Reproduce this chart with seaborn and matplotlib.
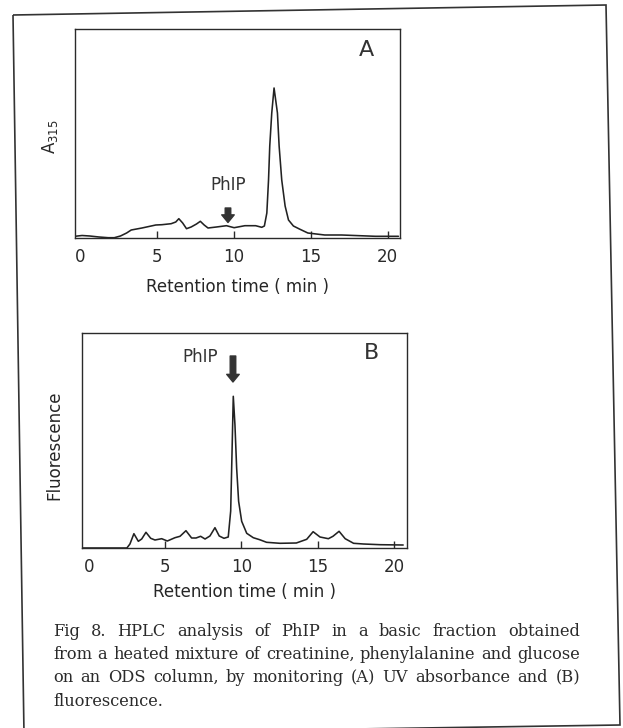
import numpy as np
import pandas as pd
import seaborn as sns
import matplotlib.pyplot as plt
import matplotlib as mpl
from matplotlib.patches import Polygon

sns.set_style("white")
mpl.rcParams["font.family"] = ["DejaVu Sans"]
mpl.rcParams["xtick.labelsize"] = 12
mpl.rcParams["axes.labelsize"] = 12
mpl.rcParams["axes.linewidth"] = 1.0
mpl.rcParams["axes.edgecolor"] = "#2a2a2a"
mpl.rcParams["text.color"] = "#333333"
mpl.rcParams["xtick.color"] = "#2a2a2a"

# panel A: UV absorbance (A315), retention time in min, signal in arbitrary units
time_a = [-0.36, -0.2, 0.1, 0.6, 1.2, 1.8, 2.2, 2.6, 3.0, 3.3, 4.0, 4.9, 5.3, 5.9,
          6.2, 6.4, 6.65, 6.9, 7.2, 7.55, 7.8, 8.05, 8.3, 8.85, 9.5, 10.0, 10.7,
          11.4, 11.8, 11.97, 12.13, 12.24, 12.32, 12.45, 12.6, 12.82, 12.93,
          13.1, 13.32, 13.54, 13.86, 14.25, 14.8, 15.9, 17.0, 19.2, 20.3, 20.7]
signal_a = [1.7, 2.0, 2.5, 2.0, 1.0, 0.3, 0.3, 2.0, 5.0, 8.0, 10.0, 13.0, 13.3, 14.3,
            16.0, 19.3, 15.0, 9.3, 11.0, 14.0, 16.7, 13.0, 10.0, 11.0, 12.3, 10.3, 12.3,
            12.3, 10.7, 12.0, 25.0, 58.0, 92.0, 125.0, 150.0, 125.0, 92.0,
            58.0, 32.0, 18.0, 12.0, 9.0, 5.0, 3.0, 3.0, 1.7, 1.7, 1.7]

# panel B: fluorescence
time_b = [-0.44, 2.5, 2.7, 2.96, 3.25, 3.47, 3.75, 4.06, 4.34, 4.78, 5.15, 5.65, 5.98,
          6.37, 6.74, 7.03, 7.33, 7.62, 7.94, 8.27, 8.55, 8.86, 9.14, 9.3, 9.39, 9.47,
          9.58, 9.69, 9.82, 10.02, 10.35, 10.78, 11.2, 11.65, 12.53, 13.6, 14.28, 14.7,
          15.15, 15.7, 16.0, 16.4, 16.8, 17.35, 18.0, 19.1, 20.6]
signal_b = [0.0, 0.0, 4.0, 14.3, 6.7, 9.0, 15.7, 9.7, 8.0, 9.3, 7.0, 10.3, 11.7,
            17.3, 10.0, 10.0, 11.7, 9.0, 12.0, 20.3, 12.0, 9.7, 11.0, 37.0, 97.0, 151.7,
            123.0, 80.0, 46.7, 26.7, 14.7, 10.3, 8.3, 5.7, 4.7, 5.0, 8.7, 16.3,
            11.0, 9.3, 11.7, 16.7, 9.3, 4.7, 4.0, 3.3, 3.0]

tick_values = [0, 5, 10, 15, 20]
tick_labels = ["0", "5", "10", "15", "20"]

caption = [
    "Fig 8. HPLC analysis of PhIP in a basic fraction obtained",
    "from a heated mixture of creatinine, phenylalanine and glucose",
    "on an ODS column, by monitoring (A) UV absorbance and (B)",
    "fluorescence.",
]

W, H = 623, 728
fig = plt.figure(figsize=(W / 100, H / 100), dpi=100)


def px_rect(left, top, right, bottom):
    return [left / W, 1 - bottom / H, (right - left) / W, (bottom - top) / H]


def draw_panel(ax, t, s, xlim, ylim, ylabel, ylabel_xy, letter, letter_xy, pad, labelpad):
    df = pd.DataFrame({"Retention time": t, "Signal": s})
    sns.lineplot(data=df, x="Retention time", y="Signal", ax=ax,
                 color="#222222", linewidth=1.15, sort=False)
    ax.set_xlim(*xlim)
    ax.set_ylim(*ylim)
    ax.set_xticks(tick_values)
    ax.set_xticklabels(tick_labels)
    ax.set_yticks([])
    ax.tick_params(axis="x", direction="in", length=5, width=1.0, pad=pad,
                   bottom=True, top=False)
    # no tick mark at 0, only the label
    ax.xaxis.get_major_ticks()[0].tick1line.set_visible(False)
    ax.set_xlabel("Retention time ( min )", labelpad=labelpad)
    ax.set_ylabel(ylabel)
    ax.yaxis.set_label_coords(*ylabel_xy)
    ax.text(letter_xy[0], letter_xy[1], letter, transform=ax.transAxes,
            fontsize=16, ha="center", va="center")
    for sp in ax.spines.values():
        sp.set_visible(True)


arrow_style = "simple,head_width=0.9,head_length=0.55,tail_width=0.4"

ax_a = fig.add_axes(px_rect(75, 29, 400, 238))
draw_panel(ax_a, time_a, signal_a, (-0.36, 20.8), (0, 209), "A$_{315}$",
           (-0.046, 0.483), "A", (0.898, 0.9), 7, 9)
ax_a.text(9.6, 53, "PhIP", ha="center", va="center", fontsize=12)
ax_a.annotate("", xy=(9.6, 15.5), xytext=(9.6, 30),
              arrowprops=dict(arrowstyle=arrow_style, color="#333333", shrinkA=0, shrinkB=0))

ax_b = fig.add_axes(px_rect(82, 333, 407, 548))
draw_panel(ax_b, time_b, signal_b, (-0.44, 20.85), (0, 215), "Fluorescence",
           (-0.058, 0.479), "B", (0.892, 0.907), 7, 5)
ax_b.text(7.3, 191, "PhIP", ha="center", va="center", fontsize=12)
ax_b.annotate("", xy=(9.45, 166), xytext=(9.45, 192),
              arrowprops=dict(arrowstyle=arrow_style, color="#333333", shrinkA=0, shrinkB=0))

# caption, justified like the printed page
x_left, x_right = 53, 580
renderer = fig.canvas.get_renderer()
for i, line in enumerate(caption):
    y = 1 - (631 + 23.4 * i) / H
    words = line.split(" ")
    texts = [fig.text(x_left / W, y, w, family="DejaVu Serif", fontsize=11.7,
                      ha="left", va="center", color="#2a2a2a") for w in words]
    widths = [t.get_window_extent(renderer).width for t in texts]
    if i < len(caption) - 1:
        gap = (x_right - x_left - sum(widths)) / (len(words) - 1)
    else:
        gap = 4.5
    x = x_left
    for t, w in zip(texts, widths):
        t.set_x(x / W)
        x += w + gap

# scanned page border (slightly skewed)
corners = [(13, 15), (606, 5), (620, 725), (24, 734)]
frame = Polygon([(x / W, 1 - y / H) for x, y in corners], closed=True, fill=False,
                edgecolor="#333333", linewidth=1.2, transform=fig.transFigure)
fig.patches.append(frame)

fig.savefig("out.png", dpi=100)
